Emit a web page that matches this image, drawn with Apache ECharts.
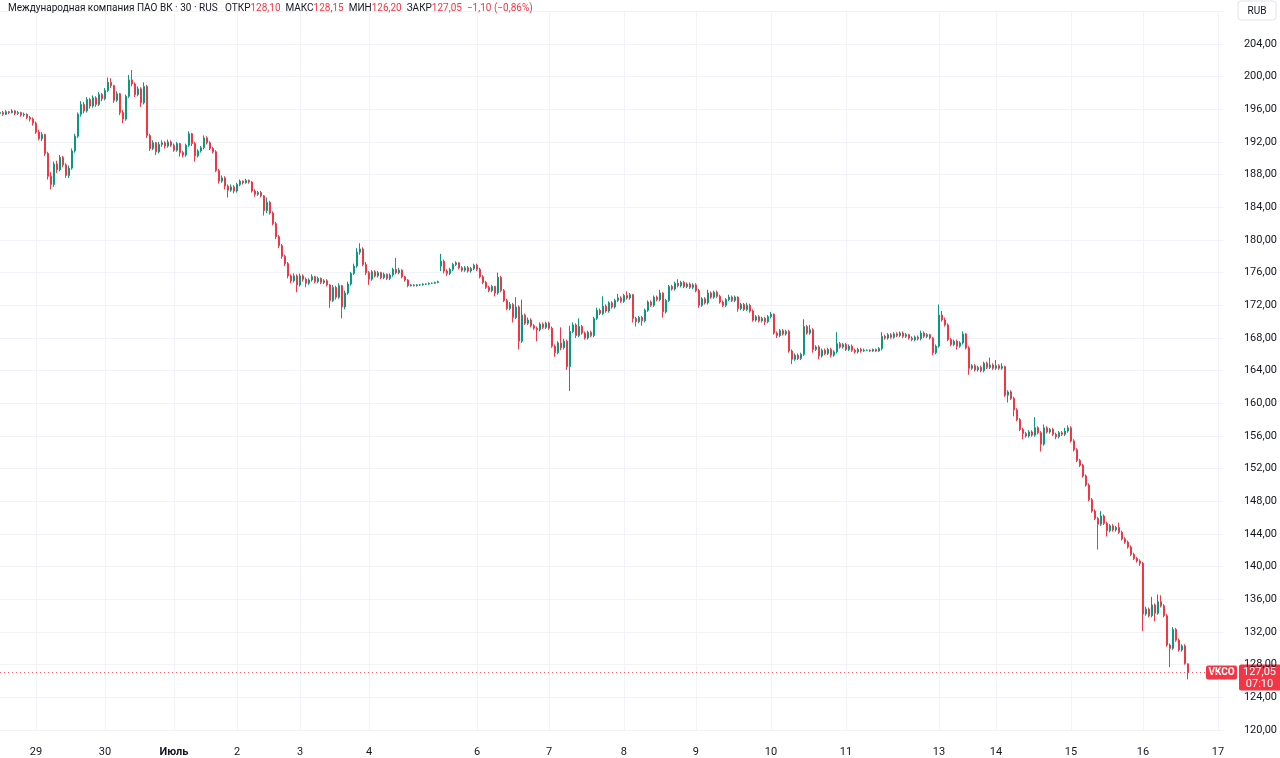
<!DOCTYPE html>
<html><head><meta charset="utf-8">
<script src="https://cdn.jsdelivr.net/npm/echarts/dist/echarts.min.js"></script>
<style>html,body{margin:0;padding:0;background:#fff}#c{width:1280px;height:758px}</style>
</head><body><div id="c"></div>
<script>
// Session (day) labels: first one ('28') is the partial day at the left edge and is not labelled
const dayLabels = ['28','29','30','Июль','2','3','4','6','7','8','9','10','11','13','14','15','16'];
const futureLabel = '17';
const emptyBarsBefore17 = 9;
const emptyBarsFrom17 = 3;
const symbolName = 'Международная компания ПАО ВК · 30 · RUS';
const tickerName = 'VKCO';
const barCountdown = '07:10';
const currencyName = 'RUB';

// 30-min candles: [open, close, low, high]
const pre = [[195.5,195.6,195.3,195.8],[195.6,195.4,195.2,195.8],[195.4,195.7,195.3,195.9],[195.7,195.6,195.4,195.8],[195.6,195.8,195.5,196.0],[195.8,195.5,195.3,195.9],[195.5,195.6,195.3,195.8],[195.6,195.3,195.1,195.7],[195.3,195.4,195.1,195.6],[195.4,195.0,194.8,195.5],[195.0,194.8,194.5,195.2],[194.8,194.3,194.0,195.0]];
const d29 = [[194.3,193.2,193.0,194.5],[193.2,192.4,192.2,193.5],[192.4,192.9,192.1,193.2],[192.9,190.6,190.3,193.0],[190.6,187.8,187.4,190.8],[187.8,186.8,186.2,188.3],[186.8,189.3,186.5,189.6],[189.3,188.6,188.2,189.7],[188.6,190.1,188.4,190.4],[190.1,189.2,188.9,190.3],[189.2,187.9,187.6,189.4],[187.9,188.8,187.6,189.1],[188.8,190.9,188.6,191.2],[190.9,192.7,190.7,193.0],[192.7,195.4,192.5,195.6],[195.4,196.6,195.1,197.0],[196.6,195.8,195.5,196.9],[195.8,197.2,195.6,197.5],[197.2,196.4,196.1,197.4],[196.4,197.4,196.2,197.7],[197.4,196.6,196.3,197.6],[196.6,197.8,196.4,198.1],[197.8,197.3,197.0,198.0]];
const d30 = [[197.3,198.3,197.1,198.6],[198.3,199.3,198.1,199.9],[199.3,198.9,198.6,199.8],[198.9,197.1,196.8,199.0],[197.1,197.9,196.9,198.2],[197.9,195.6,195.3,198.0],[195.6,194.8,194.3,195.9],[194.8,197.6,194.6,197.8],[197.6,199.6,197.4,200.2],[199.6,199.1,198.8,200.8],[199.1,197.8,197.5,199.3],[197.8,198.5,197.6,198.8],[198.5,196.8,196.3,198.7],[196.8,198.8,196.6,199.3],[198.8,192.8,192.5,199.0],[192.8,191.2,190.9,193.0],[191.2,191.9,191.0,192.2],[191.9,190.8,190.4,192.0],[190.8,191.7,190.6,192.0],[191.7,191.9,191.4,192.2],[191.9,191.5,191.2,192.1],[191.5,192.0,191.3,192.3],[192.0,191.6,191.4,192.2]];
const dJul1 = [[191.6,191.0,190.8,191.8],[191.0,191.8,190.8,192.0],[191.8,190.7,190.2,191.9],[190.7,190.4,190.1,190.9],[190.4,191.6,190.2,191.8],[191.6,193.0,191.4,193.3],[193.0,191.8,191.5,193.1],[191.8,190.3,189.6,192.0],[190.3,190.9,190.1,191.1],[190.9,191.3,190.7,191.5],[191.3,192.5,191.1,192.8],[192.5,191.9,191.7,192.7],[191.9,191.2,191.0,192.1],[191.2,190.8,190.6,191.4],[190.8,188.5,188.3,191.0],[188.5,187.2,186.9,188.7],[187.2,187.6,187.0,187.9],[187.6,186.6,186.2,187.8],[186.6,186.1,185.2,186.8],[186.1,186.5,185.9,186.8],[186.5,186.0,185.7,186.7]];
const d2 = [[186.0,186.8,185.8,187.0],[186.8,187.2,186.6,187.4],[187.2,187.0,186.8,187.3],[187.0,187.3,186.9,187.5],[187.3,187.1,186.9,187.4],[187.1,186.0,185.8,187.2],[186.0,185.6,185.3,186.2],[185.6,185.8,185.4,186.0],[185.8,185.4,185.2,186.0],[185.4,183.6,183.0,185.5],[183.6,184.6,183.3,185.2],[184.6,183.3,183.1,184.8],[183.3,182.0,181.8,183.5],[182.0,180.4,180.1,182.2],[180.4,179.3,179.0,180.6],[179.3,178.0,177.7,179.5],[178.0,177.1,176.8,178.2],[177.1,175.6,175.3,177.3],[175.6,175.0,174.7,175.8],[175.0,175.6,174.8,175.9],[175.6,174.5,173.6,175.8]];
const d3 = [[174.5,175.6,174.3,175.9],[175.6,175.2,174.9,175.8],[175.2,174.7,174.2,175.4],[174.7,175.1,174.5,175.3],[175.1,175.5,174.9,175.8],[175.5,174.9,174.7,175.6],[174.9,175.3,174.7,175.5],[175.3,174.8,174.6,175.4],[174.8,175.0,174.6,175.2],[175.0,174.5,174.3,175.2],[174.5,172.6,171.7,174.6],[172.6,174.2,172.4,174.5],[174.2,173.0,172.7,174.4],[173.0,174.4,172.8,174.7],[174.4,171.8,170.4,174.5],[171.8,173.5,171.5,173.8],[173.5,174.6,173.3,174.9],[174.6,175.9,174.4,176.1],[175.9,176.8,175.7,177.1],[176.8,178.5,176.6,179.0],[178.5,178.9,178.2,179.6],[178.9,177.0,176.8,179.1],[177.0,176.0,175.7,177.3]];
const d4 = [[176.0,175.2,174.5,176.2],[175.2,176.1,175.0,176.3],[176.1,175.6,175.4,176.3],[175.6,176.0,175.4,176.2],[176.0,175.4,175.2,176.1],[175.4,175.8,175.2,176.0],[175.8,175.3,175.1,175.9],[175.3,175.7,175.1,175.9],[175.7,176.4,175.5,176.6],[176.4,176.0,175.8,177.8],[176.0,176.3,175.8,176.6],[176.3,175.5,175.3,176.4],[175.5,175.1,174.9,175.6],[175.1,174.4,174.2,175.2],[174.4,174.5,174.3,174.6],[174.5,174.4,174.3,174.6],[174.4,174.5,174.3,174.6],[174.5,174.5,174.4,174.6],[174.5,174.6,174.4,174.7],[174.6,174.6,174.5,174.7],[174.6,174.7,174.5,174.8],[174.7,174.7,174.6,174.8],[174.7,174.8,174.6,174.9],[174.8,174.9,174.7,175.0],[176.8,177.4,176.2,178.3],[177.4,176.2,175.9,177.6],[176.2,175.9,175.6,176.4],[175.9,176.4,175.7,176.6],[176.4,177.0,176.2,177.2],[177.0,177.2,176.8,177.4],[177.2,176.6,176.4,177.3],[176.6,176.3,176.1,176.8],[176.3,176.6,176.1,176.8],[176.6,176.2,176.0,176.8],[176.2,176.5,176.0,176.7],[176.5,176.9,176.3,177.1]];
const d6 = [[176.9,176.4,176.2,177.1],[176.4,175.5,175.3,176.6],[175.5,174.8,174.6,175.7],[174.8,174.2,174.0,175.0],[174.2,173.8,173.6,174.4],[173.8,174.3,173.6,174.5],[174.3,173.5,173.1,174.4],[173.5,175.4,173.3,176.0],[175.4,173.8,173.6,175.6],[173.8,172.6,172.4,174.0],[172.6,171.6,171.4,172.8],[171.6,172.1,171.4,172.4],[172.1,170.5,169.9,172.3],[170.5,171.8,170.3,173.0],[171.8,167.6,166.6,172.0],[167.6,170.8,167.4,172.7],[170.8,169.8,169.6,171.0],[169.8,170.2,169.6,170.5],[170.2,169.5,169.3,170.4],[169.5,169.2,169.0,169.7],[169.2,169.0,167.6,169.4],[169.0,169.7,168.8,169.9],[169.7,169.3,169.1,169.9],[169.3,169.8,169.1,170.0]];
const d7 = [[169.8,169.2,169.0,170.0],[169.2,167.0,166.8,169.4],[167.0,166.2,165.7,167.2],[166.2,167.4,166.0,167.6],[167.4,166.8,166.5,169.3],[166.8,167.6,166.6,167.9],[167.6,164.5,164.1,167.8],[164.5,168.8,161.5,169.5],[168.8,169.6,168.6,169.9],[169.6,168.3,168.0,169.8],[168.3,169.4,168.1,170.4],[169.4,168.6,168.4,169.6],[168.6,168.0,167.8,168.8],[168.0,168.7,167.8,168.9],[168.7,168.3,168.1,168.9],[168.3,170.4,168.1,170.6],[170.4,171.4,170.2,171.7],[171.4,171.0,170.8,171.6],[171.0,171.9,170.8,173.1],[171.9,171.3,171.1,172.1],[171.3,172.3,171.1,172.5],[172.3,171.8,171.6,172.5],[171.8,172.6,171.6,172.8],[172.6,172.9,172.4,173.4],[172.9,172.5,172.3,173.1]];
const d8 = [[172.5,173.2,172.3,173.4],[173.2,172.9,172.7,173.7],[172.9,173.3,172.7,173.5],[173.3,170.4,169.9,173.4],[170.4,170.0,169.4,170.6],[170.0,170.5,169.8,170.7],[170.5,170.1,169.5,170.7],[170.1,171.4,169.9,171.6],[171.4,172.4,171.2,172.6],[172.4,172.0,171.8,172.6],[172.0,173.0,171.8,173.2],[173.0,172.7,172.5,173.2],[172.7,173.5,172.5,173.9],[173.5,171.2,170.5,173.6],[171.2,172.6,171.0,172.8],[172.6,174.3,172.4,174.5],[174.3,174.0,173.8,174.5],[174.0,174.7,173.8,174.9],[174.7,174.4,174.2,175.2],[174.4,174.8,174.2,175.0],[174.8,174.3,174.1,175.0],[174.3,174.6,174.1,174.8],[174.6,174.2,174.0,174.8],[174.2,174.5,174.0,174.7]];
const d9 = [[174.5,173.8,173.6,174.7],[173.8,172.0,171.7,174.0],[172.0,172.8,171.8,173.0],[172.8,172.3,172.1,173.0],[172.3,173.5,172.1,173.9],[173.5,173.0,172.8,173.7],[173.0,173.6,172.8,173.8],[173.6,173.1,172.9,173.8],[173.1,172.4,172.2,173.3],[172.4,172.0,171.8,172.6],[172.0,172.7,171.8,172.9],[172.7,173.0,172.5,173.3],[173.0,172.6,172.4,173.2],[172.6,173.0,172.4,173.2],[173.0,171.6,171.2,173.1],[171.6,172.1,171.4,172.3],[172.1,171.5,171.3,172.3],[171.5,172.0,171.3,172.3],[172.0,171.3,171.1,172.2],[171.3,170.2,170.0,171.5],[170.2,170.6,170.0,170.8],[170.6,170.1,169.9,170.8],[170.1,170.4,169.9,170.6],[170.4,170.0,169.6,170.6],[170.0,170.6,169.8,170.8]];
const d10 = [[170.6,170.9,170.4,171.2],[170.9,168.6,168.4,171.0],[168.6,168.3,168.0,168.8],[168.3,168.9,168.1,169.1],[168.9,168.5,168.3,169.1],[168.5,168.8,168.3,169.0],[168.8,166.4,166.2,169.0],[166.4,165.4,164.8,166.6],[165.4,165.9,165.2,166.1],[165.9,165.5,165.3,166.1],[165.5,166.0,165.3,166.2],[166.0,169.4,165.8,170.3],[169.4,168.6,168.4,169.6],[168.6,169.0,168.4,169.6],[169.0,166.6,166.2,169.2],[166.6,166.9,166.4,167.1],[166.9,165.8,165.4,167.1],[165.8,166.5,165.6,166.7],[166.5,166.1,165.9,166.7],[166.1,166.6,165.9,166.8],[166.6,165.9,165.6,166.8],[165.9,166.3,165.7,166.5],[166.3,167.3,166.1,168.7],[167.3,166.9,166.7,167.5],[166.9,167.2,166.7,167.4]];
const d11 = [[167.2,166.6,166.4,167.4],[166.6,167.0,166.4,167.2],[167.0,166.5,166.3,167.2],[166.5,166.3,166.1,166.7],[166.3,166.6,166.1,166.8],[166.6,166.4,166.2,166.8],[166.4,166.5,166.3,166.7],[166.5,166.5,166.4,166.6],[166.5,166.4,166.3,166.6],[166.4,166.6,166.3,166.7],[166.6,166.4,166.3,166.7],[166.4,166.7,166.3,166.9],[166.7,168.2,166.5,168.7],[168.2,168.0,167.8,168.4],[168.0,168.4,167.8,168.6],[168.4,168.1,167.9,168.6],[168.1,168.5,167.9,168.7],[168.5,168.3,168.1,168.7],[168.3,168.6,168.1,168.8],[168.6,168.2,168.0,168.8],[168.2,168.4,168.0,168.6],[168.4,168.0,167.8,168.5],[168.0,167.8,167.6,168.2],[167.8,168.1,167.6,168.3],[168.1,167.9,167.7,168.3],[167.9,168.6,167.7,168.9],[168.6,168.2,168.0,168.8],[168.2,168.4,168.0,168.6],[168.4,168.0,167.8,168.5],[168.0,166.2,165.9,168.1],[166.2,167.0,166.0,167.2]];
const d13 = [[167.0,170.8,166.8,172.1],[170.8,170.2,170.0,171.3],[170.2,169.6,169.4,170.5],[169.6,167.8,167.6,169.8],[167.8,167.2,167.0,168.0],[167.2,167.6,167.0,167.8],[167.6,167.0,166.6,167.8],[167.0,167.4,166.8,167.6],[167.4,168.5,167.2,168.8],[168.5,166.8,166.6,168.6],[166.8,164.3,163.5,167.0],[164.3,164.6,164.1,164.8],[164.6,164.1,163.9,164.8],[164.1,164.4,163.9,164.6],[164.4,164.0,163.8,164.6],[164.0,164.9,163.8,165.1],[164.9,164.4,164.2,165.1],[164.4,164.7,164.2,165.6],[164.7,164.3,164.1,164.9]];
const d14 = [[164.3,164.6,164.1,165.3],[164.6,164.3,164.1,164.8],[164.3,164.5,164.1,164.9],[164.5,161.0,160.8,164.6],[161.0,161.4,160.1,161.6],[161.4,160.6,160.4,161.6],[160.6,159.2,158.4,160.8],[159.2,158.0,157.8,159.4],[158.0,156.8,156.6,158.2],[156.8,156.3,155.6,157.0],[156.3,156.0,155.8,156.5],[156.0,156.5,155.8,156.7],[156.5,156.1,155.9,156.7],[156.1,157.0,155.9,158.3],[157.0,156.4,156.2,157.2],[156.4,155.0,154.1,156.6],[155.0,157.0,154.8,157.4],[157.0,156.5,156.3,157.2],[156.5,156.8,156.3,157.0],[156.8,156.2,156.0,157.0],[156.2,155.9,155.6,156.4],[155.9,156.4,155.7,156.6],[156.4,156.2,156.0,156.6],[156.2,156.6,156.0,157.0],[156.6,157.0,156.4,157.3]];
const d15 = [[157.0,155.4,155.2,157.2],[155.4,154.3,154.1,155.6],[154.3,153.0,152.8,154.5],[153.0,152.4,152.2,153.2],[152.4,151.1,150.9,152.6],[151.1,150.0,149.8,151.3],[150.0,148.2,148.0,150.2],[148.2,146.8,146.6,148.4],[146.8,145.9,145.7,147.0],[145.9,145.2,142.1,146.1],[145.2,146.2,145.0,146.8],[146.2,145.3,145.1,146.4],[145.3,144.4,143.7,145.5],[144.4,145.0,144.2,145.2],[145.0,144.5,144.3,145.2],[144.5,144.8,144.3,145.0],[144.8,144.2,144.0,145.4],[144.2,143.4,143.2,144.4],[143.4,143.0,142.8,143.6],[143.0,142.4,142.2,143.2],[142.4,141.5,141.3,142.6],[141.5,141.0,140.8,141.7],[141.0,140.7,140.5,141.2],[140.7,140.4,140.1,140.9]];
const d16 = [[140.4,134.2,132.1,140.6],[134.2,134.8,134.0,135.1],[134.8,134.0,133.8,135.0],[134.0,135.3,133.8,136.3],[135.3,134.3,133.3,135.5],[134.3,135.7,134.1,136.6],[135.7,135.2,135.0,136.5],[135.2,134.0,133.8,135.4],[134.0,130.4,130.2,134.2],[130.4,130.0,127.7,130.6],[130.0,132.3,129.8,132.6],[132.3,131.0,130.8,132.5],[131.0,129.8,129.6,131.2],[129.8,130.3,129.6,130.5],[130.3,128.15,128.0,130.5],[128.1,127.05,126.2,128.15]];

const sessions = [pre,d29,d30,dJul1,d2,d3,d4,d6,d7,d8,d9,d10,d11,d13,d14,d15,d16];

// ---- build categories / series from the arrays ----
const categories = [], candles = [], labelAt = {};
sessions.forEach((bars, s) => {
  bars.forEach((b, i) => {
    if (i === 0 && s > 0) labelAt[categories.length] = dayLabels[s];
    categories.push('s' + s + '_' + i);
    candles.push(b);
  });
});
for (let i = 0; i < emptyBarsBefore17; i++) categories.push('e16_' + i);
labelAt[categories.length] = futureLabel;
for (let i = 0; i < emptyBarsFrom17; i++) categories.push('e17_' + i);

const last = candles[candles.length - 1];
const prevClose = candles[candles.length - 2][1];
const fmt = v => v.toFixed(2).replace('.', ',');
const fmtSigned = v => (v < 0 ? '−' : '+') + fmt(Math.abs(v));
const chg = last[1] - prevClose;
const pct = chg / prevClose * 100;

const UP = '#089981', DOWN = '#f23645', TXT = '#131722', GRID = '#f0f3fa';
const FONT = 'Roboto, "Open Sans", sans-serif';

const chart = echarts.init(document.getElementById('c'), null, {renderer: 'canvas'});
chart.setOption({
  animation: false,
  backgroundColor: '#ffffff',
  textStyle: {fontFamily: FONT},
  title: {
    left: 3, top: -2,
    text: '{n|' + symbolName + '}   {l|ОТКР}{v|' + fmt(last[0]) + '}  {l|МАКС}{v|' + fmt(last[3]) + '}  {l|МИН}{v|' + fmt(last[2]) + '}  {l|ЗАКР}{v|' + fmt(last[1]) + '}  {v|' + fmtSigned(chg) + ' (' + fmtSigned(pct) + '%)}',
    textStyle: {
      fontSize: 10, fontWeight: 'normal', color: TXT, fontFamily: FONT,
      rich: {
        n: {fontSize: 10, color: TXT, fontFamily: FONT},
        l: {fontSize: 10, color: TXT, fontFamily: FONT},
        v: {fontSize: 10, color: DOWN, fontFamily: FONT}
      }
    }
  },
  grid: {left: 0, right: 56, top: 11.29, bottom: 27},
  xAxis: {
    type: 'category', data: categories, boundaryGap: false,
    axisLine: {show: false}, axisTick: {show: false},
    axisLabel: {
      interval: (i) => (i in labelAt), margin: 17, color: TXT, fontSize: 11, fontFamily: FONT,
      formatter: (v, i) => labelAt[i] === 'Июль' ? '{b|Июль}' : (labelAt[i] || ''),
      rich: {b: {fontWeight: 'bold', fontSize: 11, color: TXT, fontFamily: FONT}}
    },
    splitLine: {show: true, interval: (i) => (i in labelAt), lineStyle: {color: GRID, width: 1}}
  },
  yAxis: {
    type: 'value', position: 'right', min: 120, max: 208, interval: 4, scale: true,
    axisLine: {show: false}, axisTick: {show: false},
    axisLabel: {showMaxLabel: false, margin: 20, color: TXT, fontSize: 11, fontFamily: FONT, formatter: v => fmt(v)},
    splitLine: {lineStyle: {color: GRID, width: 1}}
  },
  series: [{
    type: 'candlestick',
    data: candles,
    barWidth: 1.8,
    itemStyle: {color: UP, color0: DOWN, borderColor: UP, borderColor0: DOWN, borderWidth: 1},
    markLine: {
      silent: true, symbol: 'none', animation: false,
      data: [{yAxis: last[1]}],
      label: {show: false},
      lineStyle: {color: DOWN, type: [1, 3], width: 1, opacity: 0.8}
    }
  }]
});

// price / ticker tags placed at the pixel of the last close as computed by the axis
const py = chart.convertToPixel({yAxisIndex: 0}, last[1]);
chart.setOption({
  graphic: [
    {type: 'rect', shape: {x: 1238, y: 1, width: 38, height: 19, r: 3}, style: {fill: '#fff', stroke: '#e0e3eb', lineWidth: 1}},
    {type: 'text', x: 1257, y: 11, style: {text: currencyName, fill: TXT, font: '10px ' + FONT, align: 'center', verticalAlign: 'middle'}},
    {type: 'rect', shape: {x: 1206, y: py - 7, width: 31, height: 14, r: 2}, style: {fill: DOWN}},
    {type: 'text', x: 1221.5, y: py, style: {text: tickerName, fill: '#fff', font: 'bold 10px ' + FONT, align: 'center', verticalAlign: 'middle'}},
    {type: 'rect', shape: {x: 1239, y: py - 8, width: 41, height: 26, r: [2, 0, 0, 2]}, style: {fill: DOWN}},
    {type: 'text', x: 1259.5, y: py, style: {text: fmt(last[1]), fill: '#fff', font: '11px ' + FONT, align: 'center', verticalAlign: 'middle'}},
    {type: 'text', x: 1259.5, y: py + 12, style: {text: barCountdown, fill: '#fff', font: '11px ' + FONT, align: 'center', verticalAlign: 'middle'}}
  ]
});
</script>
</body></html>
